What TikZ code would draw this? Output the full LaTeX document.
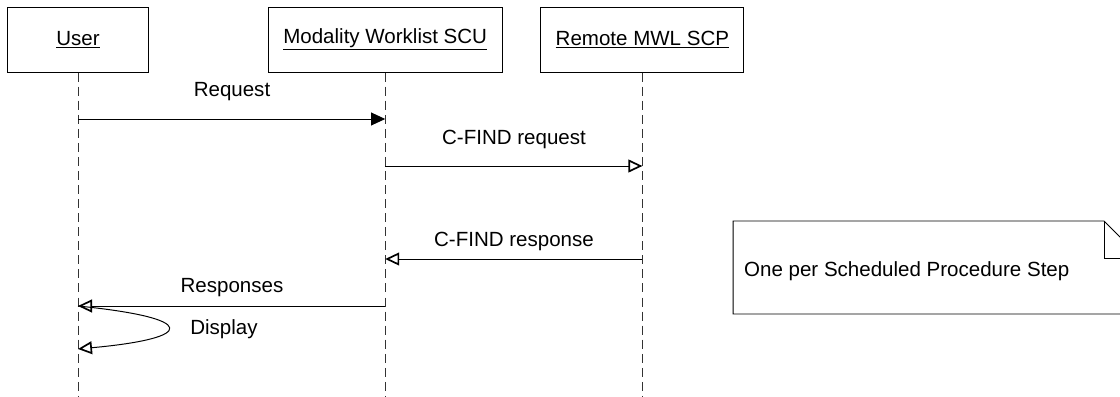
\documentclass[tikz,border=0pt]{standalone}
\usepackage{fontspec}
\setmainfont{Liberation Sans}
\usetikzlibrary{arrows.meta}

\begin{document}
\begin{tikzpicture}[
    actor_box/.style={draw=black,line width=0.7pt,inner sep=0pt,font=\fontsize{14.6}{17}\selectfont},
    lifeline/.style={line width=0.7pt,black!80,dash pattern=on 6.4pt off 3.6pt},
    sync_msg/.style={line width=0.7pt,black,-{Triangle[length=3.5mm,width=3.2mm]}},
    reply_msg/.style={line width=0.7pt,black,-{Triangle[open,length=3.5mm,width=3.2mm,line width=1.2pt]}},
    msg_label/.style={text=black,font=\fontsize{14.6}{17}\selectfont},
    note_box/.style={draw=black,line width=0.7pt,fill=white}]
  \useasboundingbox (0.00,0.00) rectangle (28.00,-9.90);
  % participants
\node[actor_box,minimum width=3.525cm,minimum height=1.625cm] (user) at (1.95,-0.99) {\underline{User}};
\node[actor_box,minimum width=5.85cm,minimum height=1.625cm] (scu) at (9.63,-0.99) {\underline{Modality Worklist SCU}};
\node[actor_box,minimum width=5.075cm,minimum height=1.625cm] (scp) at (16.06,-0.99) {\underline{Remote MWL SCP}};
  % lifelines
\coordinate (user_end) at (user.south |- 0,-9.90);
\coordinate (scu_end) at (scu.south |- 0,-9.90);
\coordinate (scp_end) at (scp.south |- 0,-9.90);
\draw[lifeline] (user.south) -- (user_end);
\draw[lifeline] (scu.south) -- (scu_end);
\draw[lifeline] (scp.south) -- (scp_end);
  % message points on the lifelines
\coordinate (user_req) at (user.south |- 0,-2.975);
\coordinate (scu_req) at (scu.south |- 0,-2.975);
\coordinate (scu_find) at (scu.south |- 0,-4.15);
\coordinate (scp_find) at (scp.south |- 0,-4.15);
\coordinate (scp_resp) at (scp.south |- 0,-6.475);
\coordinate (scu_resp) at (scu.south |- 0,-6.475);
\coordinate (scu_list) at (scu.south |- 0,-7.65);
\coordinate (user_list) at (user.south |- 0,-7.65);
\coordinate (user_show) at (user.south |- 0,-8.725);
  % messages
\draw[sync_msg] (user_req) -- (scu_req);
\node[msg_label] (l_req) at (5.80,-2.30) {Request};
\draw[reply_msg] (scu_find) -- (scp_find);
\node[msg_label] (l_find) at (12.85,-3.475) {C-FIND request};
\draw[reply_msg] (scp_resp) -- (scu_resp);
\node[msg_label] (l_resp) at (12.85,-6.025) {C-FIND response};
\draw[reply_msg] (scu_list) -- (user_list);
\node[msg_label] (l_list) at (5.80,-7.20) {Responses};
\draw[reply_msg] (user_list) .. controls (4.95,-7.95) and (4.95,-8.45) .. (user_show);
\node[msg_label] (l_show) at (5.60,-8.225) {Display};
  % note
\draw[note_box] (18.33,-5.525) -- (27.60,-5.525) -- (28.525,-6.45) -- (28.525,-7.85) -- (18.33,-7.85) -- cycle;
\draw[line width=0.7pt,black] (27.60,-5.525) -- (27.60,-6.45) -- (28.525,-6.45);
\node[msg_label,anchor=west] (note) at (18.48,-6.775) {One per Scheduled Procedure Step};
\end{tikzpicture}
\end{document}
